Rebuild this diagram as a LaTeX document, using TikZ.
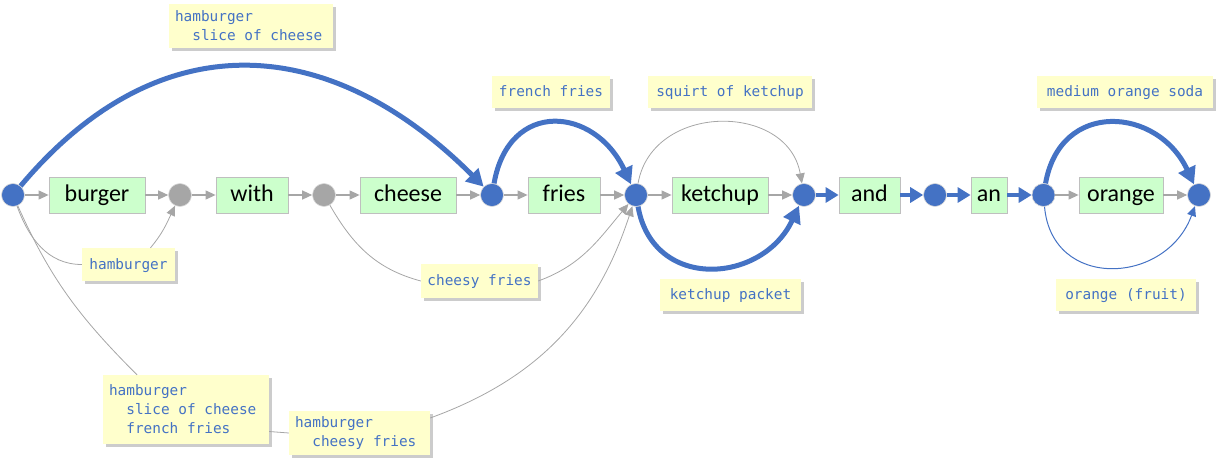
\documentclass[tikz,border=0pt]{standalone}
\usepackage{fontspec}
\newfontfamily\boxfont{Carlito}
\newfontfamily\labfont{DejaVu Sans Mono}
\usetikzlibrary{arrows.meta,shadows}
\definecolor{cblue}{HTML}{4472C4}
\definecolor{cgray}{HTML}{A6A6A6}
\definecolor{cgreen}{HTML}{CCFFCC}
\definecolor{cyellow}{HTML}{FFFFCC}
\definecolor{cboxline}{HTML}{BFBFBF}
\newcommand{\labsetup}{\labfont\fontsize{14.4}{19}\selectfont\spaceskip=0.602em plus 0pt minus 0pt\relax}
\begin{document}
\begin{tikzpicture}[x=1pt,y=1pt,
  bdot/.style={circle,minimum size=23pt,inner sep=0pt,fill=cblue,draw=black!15,line width=0.6pt},
  gdot/.style={bdot,fill=cgray},
  wbox/.style={rectangle,fill=cgreen,draw=cboxline,line width=0.8pt,minimum height=36pt,inner sep=0pt,text height=17.5pt,text depth=4.5pt,font=\boxfont\fontsize{24}{28}\selectfont},
  labbase/.style={rectangle,fill=cyellow,inner sep=0pt,text=cblue,font=\labsetup,drop shadow={opacity=1,fill=black!20,shadow xshift=3pt,shadow yshift=-3pt}},
  lab/.style={labbase,text height=11pt,text depth=2pt},
  mlab/.style={labbase,align=flush left,inner xsep=6pt},
  garr/.style={draw=cgray,line width=1.2pt,-{Triangle[length=10pt,width=9pt]}},
  thin/.style={draw=cgray,line width=0.8pt},
  thinarr/.style={thin,-{Triangle[length=10pt,width=9pt]}},
  barr/.style={draw=cblue,line width=4pt,-{Triangle[length=13pt,width=15pt]}},
  bigarr/.style={draw=cblue,line width=5pt,-{Triangle[length=17pt,width=18pt]}},
  bthin/.style={draw=cblue,line width=1pt,-{Triangle[length=10pt,width=9pt]}}
]
\useasboundingbox (0,0) rectangle (1227,-468);

% main chain
\node[bdot] (n0) at (13,-195) {};
\node[wbox,minimum width=96pt] (burger) at (97,-195) {burger};
\node[gdot] (n1) at (180,-195) {};
\node[wbox,minimum width=72pt] (with) at (252,-195) {with};
\node[gdot] (n2) at (324,-195) {};
\node[wbox,minimum width=96pt] (cheese) at (408,-195) {cheese};
\node[bdot] (n3) at (492,-195) {};
\node[wbox,minimum width=72pt] (fries) at (564,-195) {fries};
\node[bdot] (n4) at (636,-195) {};
\node[wbox,minimum width=96pt] (ketchup) at (720,-195) {ketchup};
\node[bdot] (n5) at (804,-195) {};
\node[wbox,minimum width=61pt] (and) at (869.5,-195) {and};
\node[bdot] (n6) at (935,-195) {};
\node[wbox,minimum width=36pt] (an) at (989,-195) {an};
\node[bdot] (n7) at (1043.5,-195) {};
\node[wbox,minimum width=84pt] (orange) at (1121,-195) {orange};
\node[bdot] (n8) at (1199,-195) {};

% labels
\node[mlab,minimum width=164pt,minimum height=44pt,text width=152pt] (l1) at (251,-26) {hamburger\\\phantom{xx}slice of cheese};
\node[lab,minimum width=118pt,minimum height=32pt] (lff) at (551,-92) {french fries};
\node[lab,minimum width=164pt,minimum height=32pt] (lsq) at (730,-92) {squirt of ketchup};
\node[lab,minimum width=176pt,minimum height=32pt] (lmo) at (1125,-92) {medium orange soda};
\node[lab,minimum width=93pt,minimum height=33pt] (lh) at (128.5,-264.5) {hamburger};
\node[lab,minimum width=117pt,minimum height=34pt] (lc) at (479.5,-281) {cheesy fries};
\node[lab,minimum width=141pt,minimum height=32pt] (lkp) at (730.5,-295) {ketchup packet};
\node[lab,minimum width=140pt,minimum height=32pt] (lof) at (1126,-295) {orange (fruit)};
\node[mlab,minimum width=166pt,minimum height=69pt,text width=154pt] (lb) at (186,-409.5) {hamburger\\\phantom{xx}slice of cheese\\\phantom{xx}french fries};
\node[mlab,minimum width=141pt,minimum height=44pt,text width=129pt] (lhc) at (359.5,-433) {hamburger\\\phantom{xx}cheesy fries};

% gray chain arrows
\draw[garr] (n0) -- (burger);
\draw[garr] (burger) -- (n1);
\draw[garr] (n1) -- (with);
\draw[garr] (with) -- (n2);
\draw[garr] (n2) -- (cheese);
\draw[garr] (cheese) -- (n3);
\draw[garr] (n3) -- (fries);
\draw[garr] (fries) -- (n4);
\draw[garr] (n4) -- (ketchup);
\draw[garr] (ketchup) -- (n5);
\draw[garr] (n7) -- (orange);
\draw[garr] (orange) -- (n8);

% blue chain arrows
\draw[barr] (n5) -- (and);
\draw[barr] (and) -- (n6);
\draw[barr] (n6) -- (an);
\draw[barr] (an) -- (n7);

% blue arcs
\draw[bigarr] (n0) to[out=50,in=135,looseness=1.2] (n3);
\draw[bigarr] (n3) to[out=80,in=115,looseness=1.6] (n4);
\draw[bigarr] (n4) to[out=-80,in=-115,looseness=1.37] (n5);
\draw[bigarr] (n7) to[out=80,in=115,looseness=1.47] (n8);
\draw[bthin] (n7) to[out=-85,in=-110,looseness=1.43] (n8);
\draw[thinarr] (n4) to[out=80,in=100,looseness=1.29] (n5);

% gray curves via labels
\draw[thin] (n0) to[out=-70,in=180] (lh.west);
\draw[thinarr] ([xshift=22pt]lh.north) to[out=50,in=-115] (n1);
\draw[thin] (n2) to[out=-60,in=165] (lc.west);
\draw[thinarr] (lc.east) to[out=20,in=-130] (n4);
\draw[thin] (n0) to[out=-66,in=135] ([xshift=-49pt]lb.north);
\draw[thin] ([yshift=-22pt]lb.east) -- (lhc.west);
\draw[thinarr] ([yshift=15pt]lhc.east) to[out=20,in=-108] (n4);
\end{tikzpicture}
\end{document}
